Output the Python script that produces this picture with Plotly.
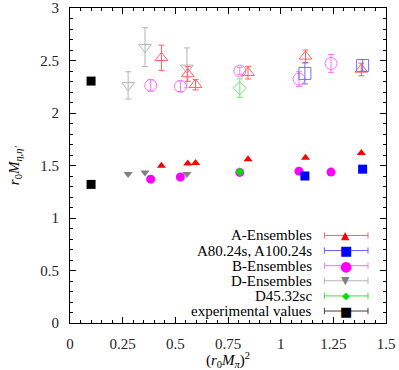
"""Flavour-singlet eta / eta' masses against the squared pion mass."""

import plotly.graph_objects as go

# lower points: eta, upper points: eta'
a_x = [0.434, 0.559, 0.596, 0.845, 1.118, 1.383]
a_eta = [1.497, 1.520, 1.525, 1.560, 1.573, 1.620]
a_etap = [2.526, 2.372, 2.270, 2.384, 2.540, 2.415]
a_etap_err = [0.12, 0.07, 0.05, 0.06, 0.06, 0.06]

a80_x = [1.115, 1.389]
a80_eta = [1.400, 1.465]
a80_etap = [2.377, 2.453]
a80_etap_err = [0.10, 0.055]

b_x = [0.383, 0.524, 0.806, 1.087, 1.239]
b_eta = [1.370, 1.390, 1.434, 1.446, 1.437]
b_etap = [2.263, 2.254, 2.400, 2.323, 2.472]
b_etap_err = [0.054, 0.05, 0.035, 0.07, 0.085]

d_x = [0.276, 0.356, 0.555]
d_eta = [1.418, 1.434, 1.418]
d_etap = [2.263, 2.627, 2.430]
d_etap_err = [0.13, 0.185, 0.19]

d45_x = [0.806]
d45_eta = [1.440]
d45_etap = [2.237]
d45_etap_err = [0.088]

exp_x = [0.100, 0.100]
exp_y = [1.320, 2.304]

legend_names = [
    "A-Ensembles",
    "A80.24s, A100.24s",
    "B-Ensembles",
    "D-Ensembles",
    "D45.32sc",
    "experimental values",
]

SERIF = "Liberation Serif"

fig = go.Figure()


def _add_ensemble(x, eta, etap, etap_err, color, light, symbol, size):
    fig.add_trace(
        go.Scatter(
            x=x,
            y=etap,
            mode="markers",
            marker=dict(symbol=symbol + "-open", size=size + 3, color=light,
                        line=dict(width=1, color=light)),
            error_y=dict(type="data", array=etap_err, color=light,
                         thickness=1, width=3),
            showlegend=False,
        )
    )
    fig.add_trace(
        go.Scatter(
            x=x,
            y=eta,
            mode="markers",
            marker=dict(symbol=symbol, size=size, color=color),
            showlegend=False,
        )
    )


_add_ensemble(d_x, d_eta, d_etap, d_etap_err, "#808080", "#b4b4b4", "triangle-down", 8)
_add_ensemble(b_x, b_eta, b_etap, b_etap_err, "#ff00ff", "#ff70ff", "circle", 9)
_add_ensemble(d45_x, d45_eta, d45_etap, d45_etap_err, "#00e000", "#70e870", "diamond", 7)
_add_ensemble(a_x, a_eta, a_etap, a_etap_err, "#ff0000", "#ff6060", "triangle-up", 8)
_add_ensemble(a80_x, a80_eta, a80_etap, a80_etap_err, "#0000ff", "#7070ff", "square", 9)

fig.add_trace(
    go.Scatter(
        x=exp_x,
        y=exp_y,
        mode="markers",
        marker=dict(symbol="square", size=9, color="black"),
        showlegend=False,
    )
)

# gnuplot-style key: text on the left, sample with error bar on the right
key_colors = ["#ff0000", "#0000ff", "#ff00ff", "#808080", "#00e000", "#000000"]
key_line_colors = ["#ff6060", "#6060ff", "#ff70ff", "#b4b4b4", "#40e040", "#404040"]
key_glyphs = ["▲", "■", "●", "▼", "◆", "■"]
key_sizes = [11, 13, 14, 11, 10, 13]
key_top, key_step = 0.278, 0.048
for i, name in enumerate(legend_names):
    yk = key_top - i * key_step
    fig.add_annotation(x=0.772, y=yk, xref="paper", yref="paper", text=name,
                       showarrow=False, xanchor="right", yanchor="middle",
                       font=dict(family=SERIF, size=15, color="black"))
    fig.add_shape(type="line", xref="paper", yref="paper", x0=0.805, x1=0.943,
                  y0=yk, y1=yk, line=dict(color=key_line_colors[i], width=1))
    for xc in (0.805, 0.943):
        fig.add_shape(type="line", xref="paper", yref="paper", x0=xc, x1=xc,
                      y0=yk - 0.01, y1=yk + 0.01,
                      line=dict(color=key_line_colors[i], width=1))
    fig.add_annotation(x=0.873, y=yk, xref="paper", yref="paper",
                       text=key_glyphs[i], showarrow=False,
                       xanchor="center", yanchor="middle",
                       font=dict(family="DejaVu Sans", size=key_sizes[i],
                                 color=key_colors[i]))

# axis titles placed by hand so the plot frame keeps its size
fig.add_annotation(x=0.5, y=-0.118, xref="paper", yref="paper",
                   text="(<i>r</i><sub>0</sub><i>M</i><sub><i>π</i></sub>)<sup>2</sup>",
                   showarrow=False, xanchor="center", yanchor="middle",
                   font=dict(family=SERIF, size=15, color="black"))
fig.add_annotation(x=-0.175, y=0.5, xref="paper", yref="paper",
                   text="<i>r</i><sub>0</sub><i>M</i><sub><i>η,η′</i></sub>",
                   showarrow=False, textangle=-90, xanchor="center",
                   yanchor="middle",
                   font=dict(family=SERIF, size=15, color="black"))

axis_common = dict(
    showline=True,
    linecolor="black",
    linewidth=1,
    mirror="ticks",
    ticks="inside",
    ticklen=6,
    tickcolor="black",
    showgrid=False,
    zeroline=False,
    automargin=False,
    tickfont=dict(family=SERIF, size=15, color="#222"),
    ticklabelstandoff=7,
    ticklabeloverflow="allow",
)

fig.update_xaxes(
    range=[0, 1.5],
    tickvals=[0, 0.25, 0.5, 0.75, 1, 1.25, 1.5],
    ticktext=["0", "0.25", "0.5", "0.75", "1", "1.25", "1.5"],
    minor=dict(dtick=0.05, ticks="inside", ticklen=3, tickcolor="black"),
    **axis_common,
)
fig.update_yaxes(
    range=[0, 3],
    tickvals=[0, 0.5, 1, 1.5, 2, 2.5, 3],
    ticktext=["0", "0.5", "1", "1.5", "2", "2.5", "3"],
    minor=dict(dtick=0.1, ticks="inside", ticklen=3, tickcolor="black"),
    **axis_common,
)

fig.update_layout(
    width=399,
    height=370,
    margin=dict(l=70, r=13, t=8, b=47),
    plot_bgcolor="white",
    paper_bgcolor="white",
    showlegend=False,
)

fig.write_html(
    "out.html",
    config={"displayModeBar": False},
    post_script="document.body.style.margin = '0';",
)
